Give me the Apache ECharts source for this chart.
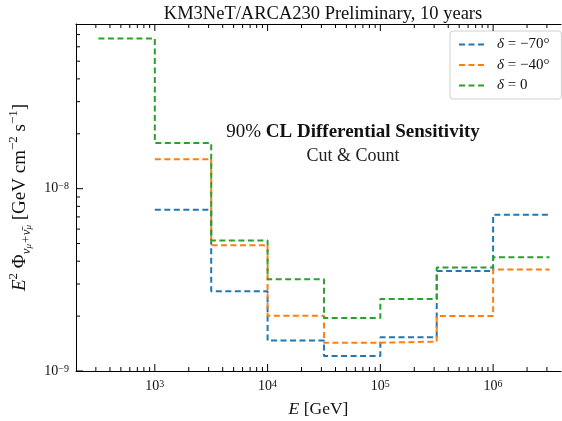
<!DOCTYPE html>
<html>
<head>
<meta charset="utf-8">
<script src="https://cdn.jsdelivr.net/npm/echarts@6/dist/echarts.min.js"></script>
<style>
html, body { margin: 0; padding: 0; background: #fff; }
#chart { width: 562px; height: 421px; }
</style>
</head>
<body>
<div id="chart"></div>
<script>
// bin edges in GeV (half-decade bins)
var binEdges = [316.23, 1000, 3162.3, 10000, 31623, 100000, 316228, 1000000, 3162278];
// E^2 flux sensitivity per bin, GeV cm^-2 s^-1
var sensDecM70 = [null, 7.67e-9, 2.74e-9, 1.47e-9, 1.21e-9, 1.53e-9, 3.54e-9, 7.2e-9];
var sensDecM40 = [null, 1.45e-8, 4.9e-9, 2.01e-9, 1.43e-9, 1.45e-9, 2.0e-9, 3.6e-9];
var sensDec0 = [6.67e-8, 1.78e-8, 5.2e-9, 3.19e-9, 1.95e-9, 2.48e-9, 3.7e-9, 4.2e-9];
var seriesNames = ['δ = −70°', 'δ = −40°', 'δ = 0'];

// ticks
var xMajorTicks = [1e3, 1e4, 1e5, 1e6];
var xMinorTicks = [300, 400, 500, 600, 700, 800, 900,
    2000, 3000, 4000, 5000, 6000, 7000, 8000, 9000,
    20000, 30000, 40000, 50000, 60000, 70000, 80000, 90000,
    200000, 300000, 400000, 500000, 600000, 700000, 800000, 900000,
    2000000, 3000000];
var yMajorTicks = [1e-9, 1e-8];
var yMinorTicks = [2e-9, 3e-9, 4e-9, 5e-9, 6e-9, 7e-9, 8e-9, 9e-9,
    2e-8, 3e-8, 4e-8, 5e-8, 6e-8, 7e-8];

var X_MIN = 200, X_MAX = 4e6;
var Y_MIN = 1e-9, Y_MAX = 8e-8;
var FONT = '"Liberation Serif", "DejaVu Serif", serif';
var colors = ['#1f77b4', '#ff7f0e', '#2ca02c'];

function stepData(vals) {
    var pts = [];
    for (var i = 0; i < vals.length; i++) {
        if (vals[i] != null) pts.push([binEdges[i], vals[i]]);
    }
    pts.push([binEdges[vals.length], vals[vals.length - 1]]);
    return pts;
}

function powLabel(v) {
    var e = Math.round(Math.log10(v));
    if (Math.abs(Math.log10(v) - e) > 1e-6) return '';
    return '10{sup|' + (e < 0 ? '−' + (-e) : e) + '}';
}

var labelRich = {
    sup: { fontSize: 10, fontFamily: FONT, color: '#111', verticalAlign: 'top', lineHeight: 10 }
};

// inward ticks on bottom/top (x) and left (y); right spine is outside the picture
function tickSeries(vals, isX, len) {
    return {
        type: 'custom',
        silent: true,
        clip: false,
        z: 5,
        data: vals.map(function (v) { return isX ? [v, Y_MIN] : [X_MIN, v]; }),
        renderItem: function (params, api) {
            var lines = [];
            if (isX) {
                var x = api.value(0);
                var b = api.coord([x, Y_MIN]);
                var t = api.coord([x, Y_MAX]);
                lines.push({ type: 'line', shape: { x1: b[0], y1: b[1], x2: b[0], y2: b[1] - len }, style: { stroke: '#000', lineWidth: 1 } });
                lines.push({ type: 'line', shape: { x1: t[0], y1: t[1], x2: t[0], y2: t[1] + len }, style: { stroke: '#000', lineWidth: 1 } });
            } else {
                var y = api.value(1);
                var l = api.coord([X_MIN, y]);
                lines.push({ type: 'line', shape: { x1: l[0], y1: l[1], x2: l[0] + len, y2: l[1] }, style: { stroke: '#000', lineWidth: 1 } });
            }
            return { type: 'group', children: lines };
        }
    };
}

var chart = echarts.init(document.getElementById('chart'));

var lineSeries = [sensDecM70, sensDecM40, sensDec0].map(function (vals, i) {
    return {
        name: seriesNames[i],
        type: 'line',
        step: 'end',
        showSymbol: false,
        symbol: 'none',
        data: stepData(vals),
        lineStyle: { color: colors[i], width: 2, type: [6, 3.5] },
        itemStyle: { color: colors[i] },
        z: 3
    };
});

chart.setOption({
    backgroundColor: '#fff',
    animation: false,
    color: colors,
    title: {
        text: 'KM3NeT/ARCA230 Preliminary, 10 years',
        left: 318,
        textAlign: 'center',
        top: 0,
        textStyle: { fontFamily: FONT, fontSize: 18.5, fontWeight: 'normal', color: '#111' }
    },
    legend: {
        data: seriesNames,
        orient: 'vertical',
        left: 450,
        top: 31,
        padding: [6, 12, 6, 8],
        itemWidth: 27,
        itemHeight: 14,
        itemGap: 5.5,
        backgroundColor: '#fff',
        borderColor: '#d0d0d0',
        borderWidth: 1,
        borderRadius: 3,
        itemStyle: { color: 'transparent', borderWidth: 0, opacity: 0 },
        formatter: function (name) { return name.replace('δ', '{i|δ}'); },
        textStyle: {
            fontFamily: FONT, fontSize: 15, color: '#111', padding: [0, 0, 0, 6],
            rich: { i: { fontFamily: FONT, fontSize: 15, fontStyle: 'italic', color: '#111' } }
        }
    },
    grid: { left: 76, right: 1, top: 24, bottom: 50, containLabel: false, outerBoundsMode: 'none' },
    xAxis: [{
        type: 'log',
        logBase: 10,
        min: X_MIN,
        max: X_MAX,
        name: '{i|E} [GeV]',
        nameLocation: 'middle',
        nameGap: 29,
        nameTextStyle: {
            fontFamily: FONT, fontSize: 17.5, color: '#111',
            rich: { i: { fontFamily: FONT, fontSize: 17.5, fontStyle: 'italic', color: '#111' } }
        },
        axisLine: { lineStyle: { color: '#000', width: 1 } },
        axisTick: { show: false },
        splitLine: { show: false },
        axisLabel: {
            fontFamily: FONT, fontSize: 14, color: '#111', margin: 8,
            formatter: powLabel, rich: labelRich
        }
    }, {
        // top spine only
        type: 'log',
        logBase: 10,
        position: 'top',
        min: X_MIN,
        max: X_MAX,
        axisLine: { lineStyle: { color: '#000', width: 1 } },
        axisTick: { show: false },
        axisLabel: { show: false },
        splitLine: { show: false }
    }],
    yAxis: {
        type: 'log',
        logBase: 10,
        min: Y_MIN,
        max: Y_MAX,
        name: '{i|E}{sup|2} Φ{sub|ν}{ssub|μ}{sub|+ν̄}{ssub|μ} [GeV cm{sup|−2} s{sup|−1}]',
        nameLocation: 'middle',
        nameRotate: 90,
        nameGap: 40,
        nameTextStyle: {
            fontFamily: FONT, fontSize: 19, color: '#111', lineHeight: 26,
            rich: {
                i: { fontFamily: FONT, fontSize: 19, fontStyle: 'italic', color: '#111' },
                sup: { fontFamily: FONT, fontSize: 13, color: '#111', verticalAlign: 'top', lineHeight: 13 },
                sub: { fontFamily: FONT, fontSize: 13, fontStyle: 'italic', color: '#111', verticalAlign: 'bottom', lineHeight: 13 },
                ssub: { fontFamily: FONT, fontSize: 9, fontStyle: 'italic', color: '#111', verticalAlign: 'bottom', lineHeight: 7 }
            }
        },
        axisLine: { lineStyle: { color: '#000', width: 1 } },
        axisTick: { show: false },
        splitLine: { show: false },
        axisLabel: {
            fontFamily: FONT, fontSize: 14, color: '#111', margin: 7,
            formatter: powLabel, rich: labelRich
        }
    },
    graphic: [
        {
            type: 'text',
            x: 353,
            y: 123,
            style: {
                text: '90% {b|CL Differential Sensitivity}',
                align: 'center',
                font: '19px ' + FONT,
                fill: '#111',
                rich: { b: { fontFamily: FONT, fontSize: 19, fontWeight: 'bold', fill: '#111' } }
            },
            z: 10
        },
        {
            type: 'text',
            x: 353,
            y: 147,
            style: {
                text: 'Cut & Count',
                align: 'center',
                font: '18px ' + FONT,
                fill: '#222'
            },
            z: 10
        }
    ],
    series: lineSeries.concat([
        tickSeries(xMajorTicks, true, 7),
        tickSeries(xMinorTicks, true, 4),
        tickSeries(yMajorTicks, false, 7),
        tickSeries(yMinorTicks, false, 4)
    ])
});
</script>
</body>
</html>
